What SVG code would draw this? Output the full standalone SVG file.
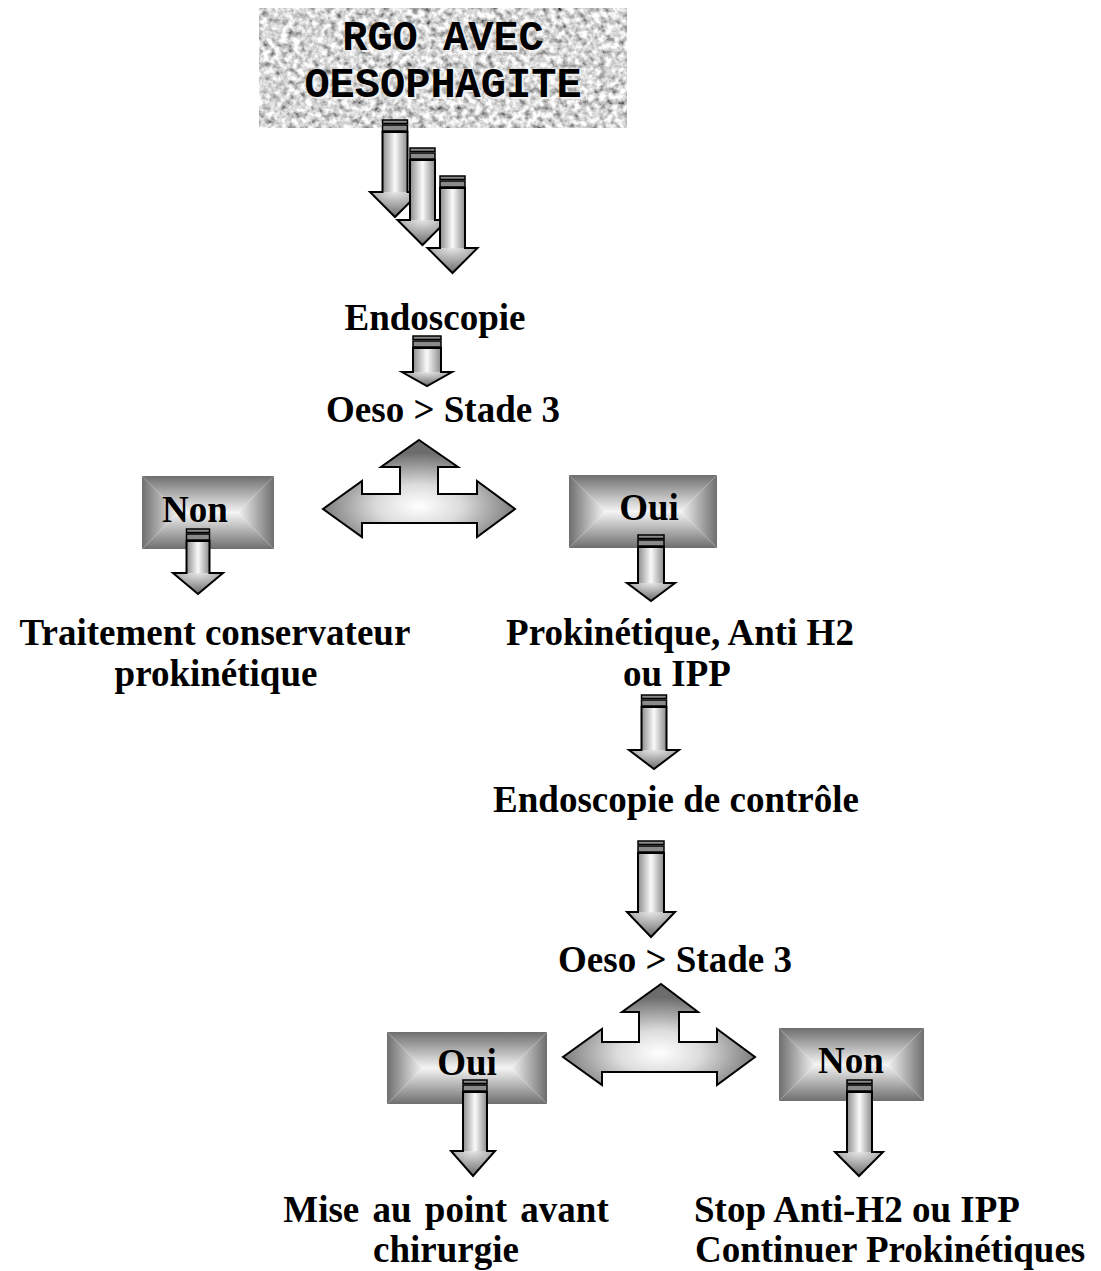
<svg xmlns="http://www.w3.org/2000/svg" width="1101" height="1271" viewBox="0 0 1101 1271">
<defs>
<style>
.t{font-family:"Liberation Serif","Times New Roman",serif;font-weight:bold;font-size:37px;fill:#000}
.c{text-anchor:middle}
.mono{font-family:"Liberation Mono","Courier New",monospace;font-weight:bold;font-size:42px;text-anchor:middle}
.ol{fill:none;stroke:#000;stroke-width:2;stroke-linejoin:miter}
.st{fill:#8a8a8a;stroke:#000;stroke-width:1.5}
.sh{fill:url(#gShaft)}
.hd{fill:url(#gHead)}
.bt{fill:url(#gT)}.bb{fill:url(#gB)}.bl{fill:url(#gL)}.br{fill:url(#gR)}
.tee{fill:url(#gTee);stroke:#000;stroke-width:2;stroke-linejoin:miter}
</style>
<linearGradient id="gShaft" x1="0" y1="0" x2="1" y2="0">
<stop offset="0" stop-color="#8c8c8c"/><stop offset="0.5" stop-color="#fafafa"/><stop offset="1" stop-color="#8c8c8c"/>
</linearGradient>
<radialGradient id="gHead" cx="0.5" cy="0" r="1">
<stop offset="0" stop-color="#e6e6e6"/><stop offset="1" stop-color="#6a6a6a"/>
</radialGradient>
<radialGradient id="gTee" cx="0.5" cy="0.68" r="0.55">
<stop offset="0" stop-color="#ffffff"/><stop offset="0.4" stop-color="#dcdcdc"/><stop offset="1" stop-color="#6c6c6c"/>
</radialGradient>
<linearGradient id="gT" x1="0" y1="0" x2="0" y2="1"><stop offset="0" stop-color="#6e6e6e"/><stop offset="1" stop-color="#f4f4f4"/></linearGradient>
<linearGradient id="gB" x1="0" y1="0" x2="0" y2="1"><stop offset="0" stop-color="#f4f4f4"/><stop offset="1" stop-color="#6e6e6e"/></linearGradient>
<linearGradient id="gL" x1="0" y1="0" x2="1" y2="0"><stop offset="0" stop-color="#6e6e6e"/><stop offset="1" stop-color="#f4f4f4"/></linearGradient>
<linearGradient id="gR" x1="0" y1="0" x2="1" y2="0"><stop offset="0" stop-color="#f4f4f4"/><stop offset="1" stop-color="#6e6e6e"/></linearGradient>
<filter id="noise" x="0" y="0" width="1" height="1" filterUnits="objectBoundingBox">
<feTurbulence type="fractalNoise" baseFrequency="0.16" numOctaves="3" seed="7" result="n"/>
<feColorMatrix in="n" type="matrix" values="1.6 0 0 0 -0.12  1.6 0 0 0 -0.12  1.6 0 0 0 -0.12  0 0 0 0 1"/>
</filter>
</defs>
<rect width="1101" height="1271" fill="#fff"/>

<g id="node-rgo">
<rect x="259" y="8" width="368" height="120" fill="#a8a8a8" filter="url(#noise)"/>
<text class="mono" x="445" y="52" fill="#f0f0f0">RGO AVEC</text>
<text class="mono" x="445" y="99" fill="#f0f0f0">OESOPHAGITE</text>
<text class="mono" x="443" y="50" fill="#000">RGO AVEC</text>
<text class="mono" x="443" y="97" fill="#000">OESOPHAGITE</text>
</g>

<g id="node-endoscopie"><text class="t c" x="435" y="330">Endoscopie</text></g>
<g id="node-oeso1"><text class="t c" x="443" y="422">Oeso &gt; Stade 3</text></g>

<g id="node-non1">
<polygon class="bt" points="142,476 274,476 237.5,512.5 178.5,512.5"/>
<polygon class="bb" points="178.5,512.5 237.5,512.5 274,549 142,549"/>
<polygon class="bl" points="142,476 178.5,512.5 142,549"/>
<polygon class="br" points="274,476 274,549 237.5,512.5"/>
<text class="t c" x="195" y="522">Non</text>
</g>
<g id="node-oui1">
<polygon class="bt" points="569,475 717,475 680.5,511.5 605.5,511.5"/>
<polygon class="bb" points="605.5,511.5 680.5,511.5 717,548 569,548"/>
<polygon class="bl" points="569,475 605.5,511.5 569,548"/>
<polygon class="br" points="717,475 717,548 680.5,511.5"/>
<text class="t c" x="649" y="520">Oui</text>
</g>

<g id="node-traitement">
<text class="t c" x="215" y="645">Traitement conservateur</text>
<text class="t c" x="216" y="686">prokinétique</text>
</g>
<g id="node-prokinetique">
<text class="t c" x="680" y="645">Prokinétique, Anti H2</text>
<text class="t c" x="677" y="686">ou IPP</text>
</g>
<g id="node-controle"><text class="t c" x="676" y="812">Endoscopie de contrôle</text></g>
<g id="node-oeso2"><text class="t c" x="675" y="972">Oeso &gt; Stade 3</text></g>

<g id="node-oui2">
<polygon class="bt" points="387,1032 547,1032 511,1068 423,1068"/>
<polygon class="bb" points="423,1068 511,1068 547,1104 387,1104"/>
<polygon class="bl" points="387,1032 423,1068 387,1104"/>
<polygon class="br" points="547,1032 547,1104 511,1068"/>
<text class="t c" x="467" y="1075">Oui</text>
</g>
<g id="node-non2">
<polygon class="bt" points="779,1028 924,1028 887.5,1064.5 815.5,1064.5"/>
<polygon class="bb" points="815.5,1064.5 887.5,1064.5 924,1101 779,1101"/>
<polygon class="bl" points="779,1028 815.5,1064.5 779,1101"/>
<polygon class="br" points="924,1028 924,1101 887.5,1064.5"/>
<text class="t c" x="851" y="1073">Non</text>
</g>

<g id="node-mise">
<text class="t c" x="446" y="1222" word-spacing="4">Mise au point avant</text>
<text class="t c" x="446" y="1262">chirurgie</text>
</g>
<g id="node-stop">
<text class="t" x="694" y="1222">Stop Anti-H2 ou IPP</text>
<text class="t" x="695" y="1262">Continuer Prokinétiques</text>
</g>

<g id="connectors">
<g>
<rect class="sh" x="382.5" y="132" width="25" height="60"/>
<polygon class="hd" points="370,192 420,192 395,217"/>
<path class="ol" d="M382.5,132 H407.5 V192 H420 L395,217 L370,192 H382.5 Z"/>
<rect class="st" x="382.5" y="120" width="25" height="3.5"/><rect class="st" x="382.5" y="125" width="25" height="6"/>
</g>
<g>
<rect class="sh" x="410" y="160" width="25" height="60"/>
<polygon class="hd" points="397.5,220 447.5,220 422.5,245"/>
<path class="ol" d="M410,160 H435 V220 H447.5 L422.5,245 L397.5,220 H410 Z"/>
<rect class="st" x="410" y="148" width="25" height="3.5"/><rect class="st" x="410" y="153" width="25" height="6"/>
</g>
<g>
<rect class="sh" x="440" y="188" width="25" height="60"/>
<polygon class="hd" points="427.5,248 477.5,248 452.5,273"/>
<path class="ol" d="M440,188 H465 V248 H477.5 L452.5,273 L427.5,248 H440 Z"/>
<rect class="st" x="440" y="176" width="25" height="3.5"/><rect class="st" x="440" y="181" width="25" height="6"/>
</g>
<g>
<rect class="sh" x="413" y="348" width="28" height="24"/>
<polygon class="hd" points="402,372 452,372 427,386"/>
<path class="ol" d="M413,348 H441 V372 H452 L427,386 L402,372 H413 Z"/>
<rect class="st" x="413" y="336" width="28" height="3.5"/><rect class="st" x="413" y="341" width="28" height="6"/>
</g>
<path class="tee" d="M419,440 L458,467 H438 V494 H477 V481 L515,509 L477,537 V523 H362 V537 L323,509 L362,481 V494 H400 V467 H381 Z"/>
<g>
<rect class="sh" x="186.5" y="541" width="23" height="32"/>
<polygon class="hd" points="173,573 223,573 198,594"/>
<path class="ol" d="M186.5,541 H209.5 V573 H223 L198,594 L173,573 H186.5 Z"/>
<rect class="st" x="186.5" y="529" width="23" height="3.5"/><rect class="st" x="186.5" y="534" width="23" height="6"/>
</g>
<g>
<rect class="sh" x="638" y="547" width="26" height="36"/>
<polygon class="hd" points="627,583 675,583 651,601"/>
<path class="ol" d="M638,547 H664 V583 H675 L651,601 L627,583 H638 Z"/>
<rect class="st" x="638" y="535" width="26" height="3.5"/><rect class="st" x="638" y="540" width="26" height="6"/>
</g>
<g>
<rect class="sh" x="641.5" y="707" width="25" height="43"/>
<polygon class="hd" points="629,750 679,750 654,769"/>
<path class="ol" d="M641.5,707 H666.5 V750 H679 L654,769 L629,750 H641.5 Z"/>
<rect class="st" x="641.5" y="695" width="25" height="3.5"/><rect class="st" x="641.5" y="700" width="25" height="6"/>
</g>
<g>
<rect class="sh" x="638" y="853" width="26" height="59"/>
<polygon class="hd" points="627,912 675,912 651,937"/>
<path class="ol" d="M638,853 H664 V912 H675 L651,937 L627,912 H638 Z"/>
<rect class="st" x="638" y="841" width="26" height="3.5"/><rect class="st" x="638" y="846" width="26" height="6"/>
</g>
<path class="tee" d="M661,984 L698,1012 H679 V1042 H717 V1029 L755,1057 L717,1085 V1072 H602 V1085 L563,1057 L602,1029 V1042 H639 V1012 H622 Z"/>
<g>
<rect class="sh" x="463" y="1092" width="24" height="59"/>
<polygon class="hd" points="451,1151 495,1151 473,1176"/>
<path class="ol" d="M463,1092 H487 V1151 H495 L473,1176 L451,1151 H463 Z"/>
<rect class="st" x="463" y="1080" width="24" height="3.5"/><rect class="st" x="463" y="1085" width="24" height="6"/>
</g>
<g>
<rect class="sh" x="847" y="1092" width="25" height="60"/>
<polygon class="hd" points="835,1152 883,1152 859,1176"/>
<path class="ol" d="M847,1092 H872 V1152 H883 L859,1176 L835,1152 H847 Z"/>
<rect class="st" x="847" y="1080" width="25" height="3.5"/><rect class="st" x="847" y="1085" width="25" height="6"/>
</g>
</g>
</svg>
